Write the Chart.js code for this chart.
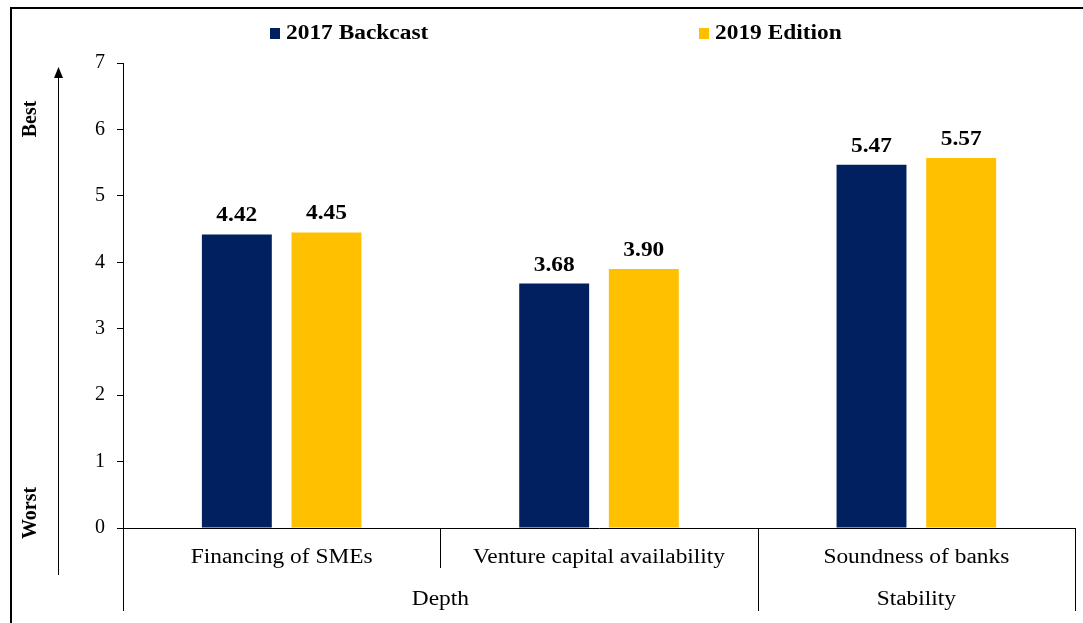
<!DOCTYPE html>
<html>
<head>
<meta charset="utf-8">
<script src="https://cdn.jsdelivr.net/npm/chart.js@4.4.1/dist/chart.umd.min.js"></script>
<style>
  html, body { margin: 0; padding: 0; background: #ffffff; }
  #wrap { width: 1083px; height: 623px; }
</style>
</head>
<body>
<div id="wrap"><canvas id="c" width="1083" height="623"></canvas></div>
<script>
// ---- data ----
const categories = ["Financing of SMEs", "Venture capital availability", "Soundness of banks"];
const groups = ["Depth", "Depth", "Stability"];
const seriesNames = ["2017 Backcast", "2019 Edition"];
const backcast2017 = [4.42, 3.68, 5.47];
const edition2019 = [4.45, 3.90, 5.57];
const yTicks = [0, 1, 2, 3, 4, 5, 6, 7];
const axisTitles = ["Best", "Worst"];

const NAVY = "#002060";
const GOLD = "#FFC000";
const SERIF = "'Liberation Serif', 'Times New Roman', serif";

// text drawn slightly stretched horizontally, like the reference
function wideText(ctx, text, x, y, font, align, sx) {
  ctx.save();
  ctx.font = font;
  ctx.textAlign = align;
  ctx.translate(x, y);
  ctx.scale(sx, 1);
  ctx.fillText(text, 0, 0);
  ctx.restore();
}

const decor = {
  id: "decor",
  afterDraw(chart) {
    const ctx = chart.ctx;
    const area = chart.chartArea;
    const xs = chart.scales.x;
    ctx.save();

    // outer frame (top and left)
    ctx.strokeStyle = "#000";
    ctx.lineWidth = 2;
    ctx.beginPath();
    ctx.moveTo(11, 623);
    ctx.lineTo(11, 8);
    ctx.lineTo(1083, 8);
    ctx.stroke();

    // legend
    const legendX = [270, 699];
    ctx.textBaseline = "middle";
    chart.data.datasets.forEach((ds, i) => {
      ctx.fillStyle = ds.backgroundColor;
      ctx.fillRect(legendX[i], 28, 10, 11);
      ctx.fillStyle = "#000";
      wideText(ctx, ds.label, legendX[i] + 16, 34, "bold 20px " + SERIF, "left", 1.17);
    });

    // value labels
    ctx.textBaseline = "alphabetic";
    ctx.fillStyle = "#000";
    chart.data.datasets.forEach((ds, di) => {
      const meta = chart.getDatasetMeta(di);
      meta.data.forEach((bar, i) => {
        wideText(ctx, ds.data[i].toFixed(2), bar.x, bar.y - 13, "bold 20px " + SERIF, "center", 1.17);
      });
    });

    // category axis: dividers and labels
    const n = categories.length;
    const bounds = [];
    for (let i = 0; i <= n; i++) {
      if (i === 0) bounds.push(area.left);
      else if (i === n) bounds.push(area.right);
      else bounds.push((xs.getPixelForValue(i - 1) + xs.getPixelForValue(i)) / 2);
    }
    ctx.lineWidth = 1;
    ctx.strokeStyle = "#000";
    for (let i = 0; i <= n; i++) {
      const isGroupEdge = i === 0 || i === n || groups[i] !== groups[i - 1];
      const x = Math.round(bounds[i]) + 0.5;
      ctx.beginPath();
      ctx.moveTo(x, area.bottom);
      ctx.lineTo(x, isGroupEdge ? area.bottom + 83 : area.bottom + 40);
      ctx.stroke();
    }
    ctx.textBaseline = "middle";
    ctx.fillStyle = "#000";
    categories.forEach((c, i) => {
      wideText(ctx, c, xs.getPixelForValue(i), area.bottom + 30, "20px " + SERIF, "center", 1.17);
    });
    // group labels
    let start = 0;
    for (let i = 1; i <= n; i++) {
      if (i === n || groups[i] !== groups[start]) {
        const cx = (bounds[start] + bounds[i]) / 2;
        wideText(ctx, groups[start], cx, area.bottom + 72, "20px " + SERIF, "center", 1.17);
        start = i;
      }
    }

    // y-axis direction arrow and titles
    ctx.strokeStyle = "#000";
    ctx.lineWidth = 1;
    ctx.beginPath();
    ctx.moveTo(58.5, 575);
    ctx.lineTo(58.5, 74);
    ctx.stroke();
    ctx.fillStyle = "#000";
    ctx.beginPath();
    ctx.moveTo(58.5, 67);
    ctx.lineTo(54, 78);
    ctx.lineTo(63, 78);
    ctx.closePath();
    ctx.fill();

    ctx.font = "bold 20px " + SERIF;
    ctx.textBaseline = "middle";
    ctx.textAlign = "center";
    ctx.save();
    ctx.translate(31, 119);
    ctx.rotate(-Math.PI / 2);
    ctx.fillText(axisTitles[0], 0, 0);
    ctx.restore();
    ctx.save();
    ctx.translate(31, 513);
    ctx.rotate(-Math.PI / 2);
    ctx.fillText(axisTitles[1], 0, 0);
    ctx.restore();

    ctx.restore();
  }
};

new Chart(document.getElementById("c"), {
  type: "bar",
  data: {
    labels: categories,
    datasets: [
      { label: seriesNames[0], data: backcast2017, backgroundColor: NAVY },
      { label: seriesNames[1], data: edition2019, backgroundColor: GOLD }
    ]
  },
  options: {
    responsive: false,
    animation: false,
    devicePixelRatio: 1,
    layout: { padding: { top: 63, right: 8, left: 0, bottom: 0 } },
    plugins: { legend: { display: false }, tooltip: { enabled: false } },
    datasets: { bar: { categoryPercentage: 0.565, barPercentage: 0.78 } },
    scales: {
      x: {
        ticks: { display: false },
        grid: { display: false },
        border: { display: true, color: "#000", width: 1 },
        afterFit(scale) { scale.height = 95; }
      },
      y: {
        min: 0,
        max: 7,
        afterBuildTicks(scale) { scale.ticks = yTicks.map(v => ({ value: v })); },
        ticks: {
          color: "#000",
          padding: 12,
          font: { family: SERIF, size: 20 }
        },
        grid: { drawOnChartArea: false, drawTicks: true, tickLength: 6, color: "#000" },
        border: { display: true, color: "#000", width: 1 },
        afterFit(scale) { scale.width = 123; }
      }
    }
  },
  plugins: [decor]
});
</script>
</body>
</html>
